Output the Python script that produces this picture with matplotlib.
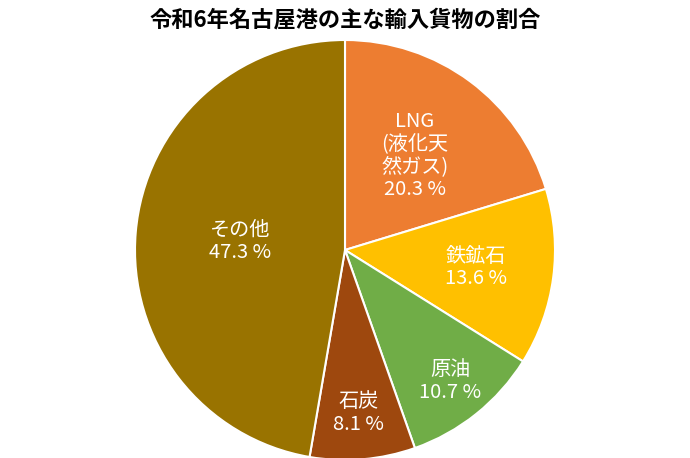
import numpy as np
import matplotlib
matplotlib.use("Agg")
import matplotlib.pyplot as plt

labels = ["LNG\n(液化天\n然ガス)", "鉄鉱石", "原油", "石炭", "その他"]
values = [20.3, 13.6, 10.7, 8.1, 47.3]
colors = ["#ED7D31", "#FFC000", "#70AD47", "#9E480E", "#997300"]
label_dist = [0.56, 0.63, 0.8, 0.78, 0.5]

plt.rcParams["font.family"] = "Noto Sans CJK JP"
fig = plt.figure(figsize=(6.9, 4.58), dpi=100)
ax = fig.add_axes([135/690, -2/458, 420/690, 420/458])
wedges, _ = ax.pie(values, colors=colors, startangle=90, counterclock=False,
                   wedgeprops=dict(edgecolor="white", linewidth=1.5))
for w in wedges:
    w.set_clip_on(False)
ax.set_xlim(-1, 1); ax.set_ylim(-1, 1); ax.set_aspect("equal"); ax.axis("off")
for w, lab, v, d in zip(wedges, labels, values, label_dist):
    a = np.deg2rad((w.theta1 + w.theta2) / 2)
    ax.text(d*np.cos(a), d*np.sin(a), f"{lab}\n{v:.1f} %", ha="center", va="center",
            color="white", fontsize=14.5, linespacing=1.1, clip_on=False)
fig.text(0.5, 1 - 20/458, "令和6年名古屋港の主な輸入貨物の割合", ha="center", va="center",
         fontsize=16, fontweight="bold")
fig.savefig("out.png", dpi=100)
